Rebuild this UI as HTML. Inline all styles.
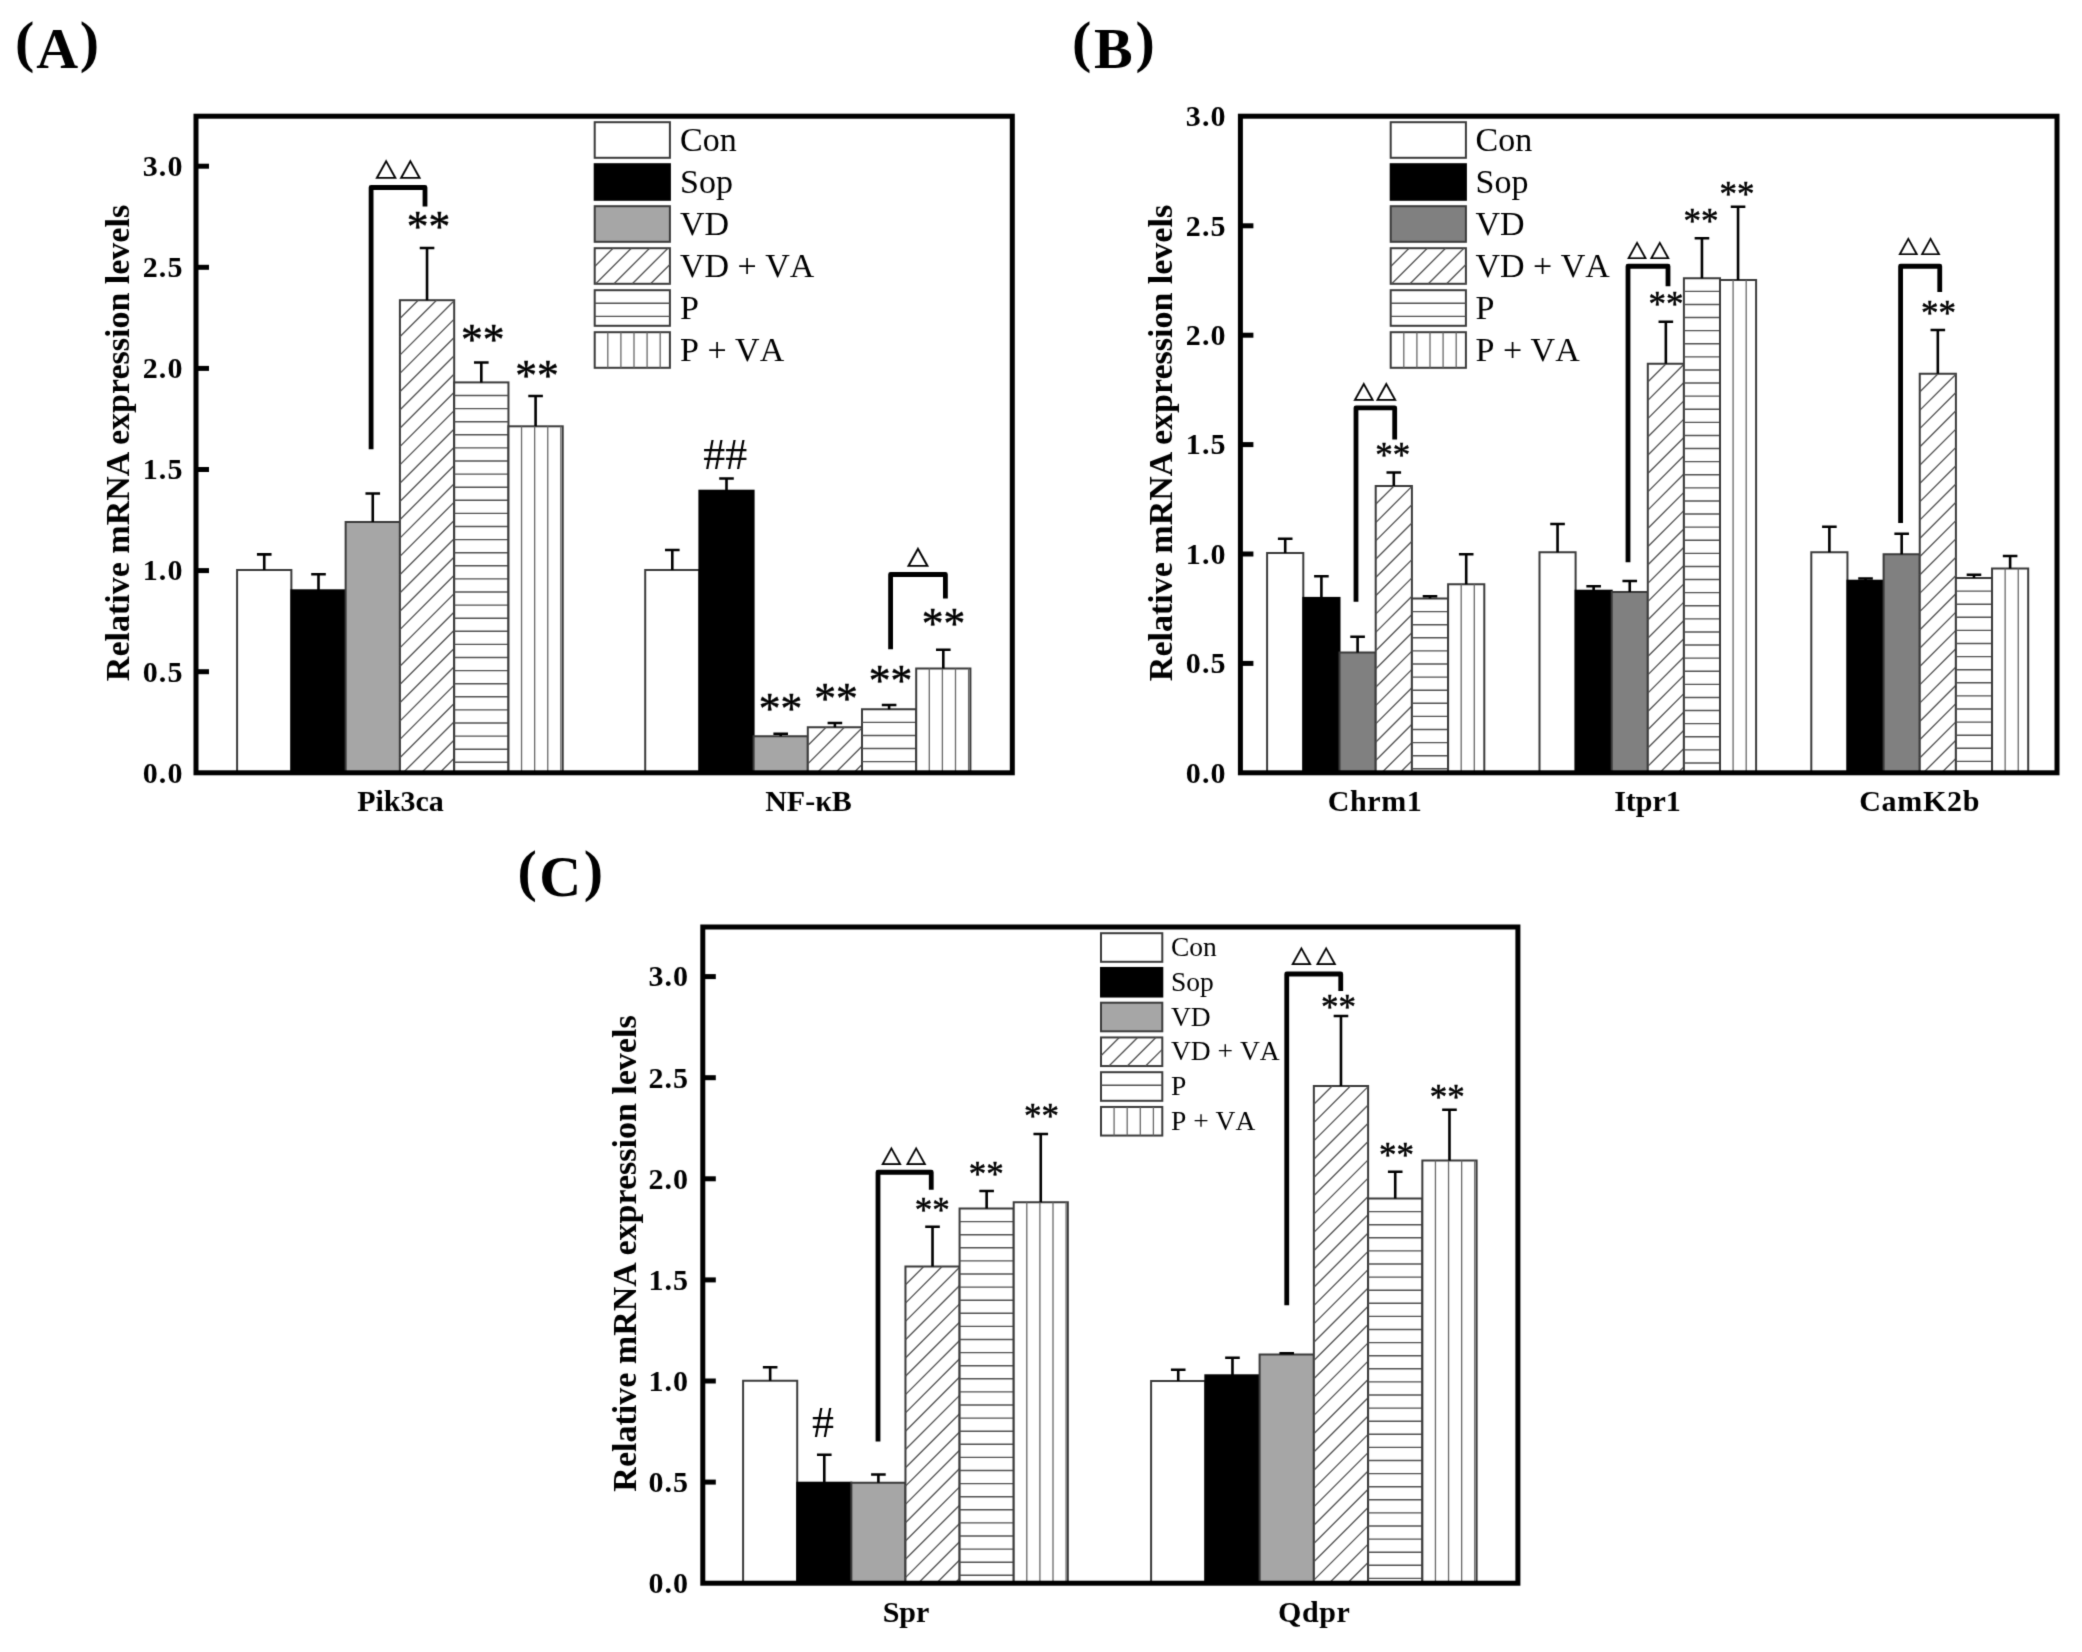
<!DOCTYPE html>
<html lang="en">
<head>
<meta charset="utf-8">
<title>Relative mRNA expression levels</title>
<style>
html,body{margin:0;padding:0;background:#fff;}
body{width:2082px;height:1652px;overflow:hidden;}
svg{display:block;}
#fig{width:2082px;height:1652px;}
</style>
</head>
<body>
<div id="fig">
<svg width="2082" height="1652" viewBox="0 0 2082 1652" fill="#000">
<defs><filter id="soft" filterUnits="userSpaceOnUse" x="0" y="0" width="2082" height="1652" color-interpolation-filters="sRGB"><feConvolveMatrix order="3" kernelMatrix="0.0169 0.0962 0.0169 0.0962 0.5476 0.0962 0.0169 0.0962 0.0169" edgeMode="duplicate" preserveAlpha="false"/></filter></defs>
<g filter="url(#soft)">
<rect x="0" y="0" width="2082" height="1652" fill="#fff"/>
<rect x="237.1" y="570" width="54.27" height="202.8" fill="#fff" stroke="#3a3a3a" stroke-width="2"/>
<rect x="291.37" y="590.3" width="54.27" height="182.5" fill="#000" stroke="#000" stroke-width="2"/>
<rect x="345.64" y="522" width="54.27" height="250.8" fill="#a6a6a6" stroke="#3a3a3a" stroke-width="2"/>
<rect x="399.91" y="300.2" width="54.27" height="472.6" fill="#fff" stroke="#3a3a3a" stroke-width="2"/>
<path d="M399.91,318.5L418.21,300.2M399.91,336.8L436.51,300.2M399.91,355.1L454.18,300.83M399.91,373.4L454.18,319.13M399.91,391.7L454.18,337.43M399.91,410L454.18,355.73M399.91,428.3L454.18,374.03M399.91,446.6L454.18,392.33M399.91,464.9L454.18,410.63M399.91,483.2L454.18,428.93M399.91,501.5L454.18,447.23M399.91,519.8L454.18,465.53M399.91,538.1L454.18,483.83M399.91,556.4L454.18,502.13M399.91,574.7L454.18,520.43M399.91,593L454.18,538.73M399.91,611.3L454.18,557.03M399.91,629.6L454.18,575.33M399.91,647.9L454.18,593.63M399.91,666.2L454.18,611.93M399.91,684.5L454.18,630.23M399.91,702.8L454.18,648.53M399.91,721.1L454.18,666.83M399.91,739.4L454.18,685.13M399.91,757.7L454.18,703.43M403.11,772.8L454.18,721.73M421.41,772.8L454.18,740.03M439.71,772.8L454.18,758.33" stroke="#505050" stroke-width="1.3" fill="none"/>
<rect x="454.18" y="382.4" width="54.27" height="390.4" fill="#fff" stroke="#3a3a3a" stroke-width="2"/>
<path d="M454.18,395.5H508.45M454.18,408.6H508.45M454.18,421.7H508.45M454.18,434.8H508.45M454.18,447.9H508.45M454.18,461H508.45M454.18,474.1H508.45M454.18,487.2H508.45M454.18,500.3H508.45M454.18,513.4H508.45M454.18,526.5H508.45M454.18,539.6H508.45M454.18,552.7H508.45M454.18,565.8H508.45M454.18,578.9H508.45M454.18,592H508.45M454.18,605.1H508.45M454.18,618.2H508.45M454.18,631.3H508.45M454.18,644.4H508.45M454.18,657.5H508.45M454.18,670.6H508.45M454.18,683.7H508.45M454.18,696.8H508.45M454.18,709.9H508.45M454.18,723H508.45M454.18,736.1H508.45M454.18,749.2H508.45M454.18,762.3H508.45" stroke="#505050" stroke-width="1.4" fill="none"/>
<rect x="508.45" y="426.3" width="54.27" height="346.5" fill="#fff" stroke="#3a3a3a" stroke-width="2"/>
<path d="M521.55,426.3V772.8M534.65,426.3V772.8M547.75,426.3V772.8M560.85,426.3V772.8" stroke="#686868" stroke-width="1.3" fill="none"/>
<path d="M264.24,570 V554.4 M256.94,554.4 H271.54" stroke="#000" stroke-width="2.6" fill="none"/>
<path d="M318.5,590.3 V574.3 M311.2,574.3 H325.81" stroke="#000" stroke-width="2.6" fill="none"/>
<path d="M372.77,522 V493.5 M365.47,493.5 H380.07" stroke="#000" stroke-width="2.6" fill="none"/>
<path d="M427.04,300.2 V248 M419.74,248 H434.34" stroke="#000" stroke-width="2.6" fill="none"/>
<path d="M481.31,382.4 V362.5 M474.01,362.5 H488.62" stroke="#000" stroke-width="2.6" fill="none"/>
<path d="M535.59,426.3 V396 M528.29,396 H542.88" stroke="#000" stroke-width="2.6" fill="none"/>
<rect x="645.2" y="570" width="54.2" height="202.8" fill="#fff" stroke="#3a3a3a" stroke-width="2"/>
<rect x="699.4" y="490.7" width="54.2" height="282.1" fill="#000" stroke="#000" stroke-width="2"/>
<rect x="753.6" y="736.25" width="54.2" height="36.55" fill="#a6a6a6" stroke="#3a3a3a" stroke-width="2"/>
<rect x="807.8" y="727.25" width="54.2" height="45.55" fill="#fff" stroke="#3a3a3a" stroke-width="2"/>
<path d="M807.8,745.55L826.1,727.25M807.8,763.85L844.4,727.25M817.15,772.8L862,727.95M835.45,772.8L862,746.25M853.75,772.8L862,764.55" stroke="#505050" stroke-width="1.3" fill="none"/>
<rect x="862" y="709.25" width="54.2" height="63.55" fill="#fff" stroke="#3a3a3a" stroke-width="2"/>
<path d="M862,722.35H916.2M862,735.45H916.2M862,748.55H916.2M862,761.65H916.2" stroke="#505050" stroke-width="1.4" fill="none"/>
<rect x="916.2" y="668.5" width="54.2" height="104.3" fill="#fff" stroke="#3a3a3a" stroke-width="2"/>
<path d="M929.3,668.5V772.8M942.4,668.5V772.8M955.5,668.5V772.8M968.6,668.5V772.8" stroke="#686868" stroke-width="1.3" fill="none"/>
<path d="M672.3,570 V550 M665,550 H679.6" stroke="#000" stroke-width="2.6" fill="none"/>
<path d="M726.5,490.7 V478.5 M719.2,478.5 H733.8" stroke="#000" stroke-width="2.6" fill="none"/>
<path d="M780.7,736.25 V733.75 M773.4,733.75 H788" stroke="#000" stroke-width="2.6" fill="none"/>
<path d="M834.9,727.25 V723 M827.6,723 H842.2" stroke="#000" stroke-width="2.6" fill="none"/>
<path d="M889.1,709.25 V705 M881.8,705 H896.4" stroke="#000" stroke-width="2.6" fill="none"/>
<path d="M943.3,668.5 V649.75 M936,649.75 H950.6" stroke="#000" stroke-width="2.6" fill="none"/>
<rect x="594.7" y="122.2" width="75.2" height="35.6" fill="#fff" stroke="#3a3a3a" stroke-width="2"/>
<text x="680" y="151.3" font-family="'Liberation Serif', serif" font-size="34" style="font-kerning:none">Con</text>
<rect x="594.7" y="164.2" width="75.2" height="35.6" fill="#000" stroke="#000" stroke-width="2"/>
<text x="680" y="193.3" font-family="'Liberation Serif', serif" font-size="34" style="font-kerning:none">Sop</text>
<rect x="594.7" y="206.2" width="75.2" height="35.6" fill="#a6a6a6" stroke="#3a3a3a" stroke-width="2"/>
<text x="680" y="235.3" font-family="'Liberation Serif', serif" font-size="34" style="font-kerning:none">VD</text>
<rect x="594.7" y="248.2" width="75.2" height="35.6" fill="#fff" stroke="#3a3a3a" stroke-width="2"/>
<path d="M594.7,266.5L613,248.2M595.7,283.8L631.3,248.2M614,283.8L649.6,248.2M632.3,283.8L667.9,248.2M650.6,283.8L669.9,264.5M668.9,283.8L669.9,282.8" stroke="#505050" stroke-width="1.3" fill="none"/>
<text x="680" y="277.3" font-family="'Liberation Serif', serif" font-size="34" style="font-kerning:none">VD + VA</text>
<rect x="594.7" y="290.2" width="75.2" height="35.6" fill="#fff" stroke="#3a3a3a" stroke-width="2"/>
<path d="M594.7,303.3H669.9M594.7,316.4H669.9" stroke="#505050" stroke-width="1.4" fill="none"/>
<text x="680" y="319.3" font-family="'Liberation Serif', serif" font-size="34" style="font-kerning:none">P</text>
<rect x="594.7" y="332.2" width="75.2" height="35.6" fill="#fff" stroke="#3a3a3a" stroke-width="2"/>
<path d="M607.8,332.2V367.8M620.9,332.2V367.8M634,332.2V367.8M647.1,332.2V367.8M660.2,332.2V367.8" stroke="#686868" stroke-width="1.3" fill="none"/>
<text x="680" y="361.3" font-family="'Liberation Serif', serif" font-size="34" style="font-kerning:none">P + VA</text>
<rect x="196" y="116.2" width="816.3" height="656.6" fill="none" stroke="#000" stroke-width="5"/>
<text x="142.7" y="782.6" letter-spacing="1.1" font-family="'Liberation Serif', serif" font-weight="bold" font-size="30">0.0</text>
<path d="M196,671.7 H209" stroke="#000" stroke-width="5"/>
<text x="142.7" y="681.5" letter-spacing="1.1" font-family="'Liberation Serif', serif" font-weight="bold" font-size="30">0.5</text>
<path d="M196,570.6 H209" stroke="#000" stroke-width="5"/>
<text x="142.7" y="580.4" letter-spacing="1.1" font-family="'Liberation Serif', serif" font-weight="bold" font-size="30">1.0</text>
<path d="M196,469.5 H209" stroke="#000" stroke-width="5"/>
<text x="142.7" y="479.3" letter-spacing="1.1" font-family="'Liberation Serif', serif" font-weight="bold" font-size="30">1.5</text>
<path d="M196,368.4 H209" stroke="#000" stroke-width="5"/>
<text x="142.7" y="378.2" letter-spacing="1.1" font-family="'Liberation Serif', serif" font-weight="bold" font-size="30">2.0</text>
<path d="M196,267.3 H209" stroke="#000" stroke-width="5"/>
<text x="142.7" y="277.1" letter-spacing="1.1" font-family="'Liberation Serif', serif" font-weight="bold" font-size="30">2.5</text>
<path d="M196,166.2 H209" stroke="#000" stroke-width="5"/>
<text x="142.7" y="176" letter-spacing="1.1" font-family="'Liberation Serif', serif" font-weight="bold" font-size="30">3.0</text>
<text x="400.5" y="811" text-anchor="middle" font-family="'Liberation Serif', serif" font-weight="bold" font-size="30">Pik3ca</text>
<text x="808.5" y="811" text-anchor="middle" font-family="'Liberation Serif', serif" font-weight="bold" font-size="30">NF-κB</text>
<text transform="translate(129.3,443) rotate(-90)" text-anchor="middle" font-family="'Liberation Serif', serif" font-weight="bold" font-size="34">Relative mRNA expression levels</text>
<text x="15" y="67.5" letter-spacing="1.8" font-family="'Liberation Serif', serif" font-weight="bold" font-size="58"><tspan dy="-6.5">(</tspan><tspan dy="6.5">A</tspan><tspan dy="-6.5">)</tspan></text>
<path d="M371.1,449.25 V187.5 H425 V206.6" stroke="#000" stroke-width="4.8" fill="none" stroke-linejoin="round" stroke-linecap="butt"/>
<text transform="translate(375.3,179.45) scale(1.07,1)" x="-2.5 20.21" y="0" font-family="'IPAGothic', 'Noto Sans CJK JP', sans-serif" font-size="25" stroke="#000" stroke-width="0.15">△△</text>
<text x="428.5" y="241.14" text-anchor="middle" font-family="'Liberation Serif', serif" font-size="43.5" stroke="#000" stroke-width="0.5">**</text>
<text x="482.65" y="353.55" text-anchor="middle" font-family="'Liberation Serif', serif" font-size="43.5" stroke="#000" stroke-width="0.5">**</text>
<text x="537" y="389.94" text-anchor="middle" font-family="'Liberation Serif', serif" font-size="43.5" stroke="#000" stroke-width="0.5">**</text>
<text x="725.3" y="468.9" text-anchor="middle" font-family="'Liberation Serif', serif" font-size="44">##</text>
<text x="780.62" y="722.82" text-anchor="middle" font-family="'Liberation Serif', serif" font-size="43.5" stroke="#000" stroke-width="0.5">**</text>
<text x="836.12" y="712.82" text-anchor="middle" font-family="'Liberation Serif', serif" font-size="43.5" stroke="#000" stroke-width="0.5">**</text>
<text x="890.62" y="694.57" text-anchor="middle" font-family="'Liberation Serif', serif" font-size="43.5" stroke="#000" stroke-width="0.5">**</text>
<text x="943.55" y="638.15" text-anchor="middle" font-family="'Liberation Serif', serif" font-size="43.5" stroke="#000" stroke-width="0.5">**</text>
<path d="M890.6,649.25 V574.5 H945.4 V598.6" stroke="#000" stroke-width="4.8" fill="none" stroke-linejoin="round" stroke-linecap="butt"/>
<text transform="translate(906.9,567.16) scale(1.07,1)" x="-2.41" y="0" font-family="'IPAGothic', 'Noto Sans CJK JP', sans-serif" font-size="25.66" stroke="#000" stroke-width="0.15">△</text>
<rect x="1267.1" y="553" width="36.2" height="219.8" fill="#fff" stroke="#3a3a3a" stroke-width="2"/>
<rect x="1303.3" y="597.9" width="36.2" height="174.9" fill="#000" stroke="#000" stroke-width="2"/>
<rect x="1339.5" y="652.5" width="36.2" height="120.3" fill="#808080" stroke="#3a3a3a" stroke-width="2"/>
<rect x="1375.7" y="486" width="36.2" height="286.8" fill="#fff" stroke="#3a3a3a" stroke-width="2"/>
<path d="M1375.7,504.3L1394,486M1375.7,522.6L1411.9,486.4M1375.7,540.9L1411.9,504.7M1375.7,559.2L1411.9,523M1375.7,577.5L1411.9,541.3M1375.7,595.8L1411.9,559.6M1375.7,614.1L1411.9,577.9M1375.7,632.4L1411.9,596.2M1375.7,650.7L1411.9,614.5M1375.7,669L1411.9,632.8M1375.7,687.3L1411.9,651.1M1375.7,705.6L1411.9,669.4M1375.7,723.9L1411.9,687.7M1375.7,742.2L1411.9,706M1375.7,760.5L1411.9,724.3M1381.7,772.8L1411.9,742.6M1400,772.8L1411.9,760.9" stroke="#505050" stroke-width="1.3" fill="none"/>
<rect x="1411.9" y="598.5" width="36.2" height="174.3" fill="#fff" stroke="#3a3a3a" stroke-width="2"/>
<path d="M1411.9,611.6H1448.1M1411.9,624.7H1448.1M1411.9,637.8H1448.1M1411.9,650.9H1448.1M1411.9,664H1448.1M1411.9,677.1H1448.1M1411.9,690.2H1448.1M1411.9,703.3H1448.1M1411.9,716.4H1448.1M1411.9,729.5H1448.1M1411.9,742.6H1448.1M1411.9,755.7H1448.1M1411.9,768.8H1448.1" stroke="#505050" stroke-width="1.4" fill="none"/>
<rect x="1448.1" y="584.25" width="36.2" height="188.55" fill="#fff" stroke="#3a3a3a" stroke-width="2"/>
<path d="M1461.2,584.25V772.8M1474.3,584.25V772.8" stroke="#686868" stroke-width="1.3" fill="none"/>
<path d="M1285.2,553 V538.75 M1277.9,538.75 H1292.5" stroke="#000" stroke-width="2.6" fill="none"/>
<path d="M1321.4,597.9 V576.25 M1314.1,576.25 H1328.7" stroke="#000" stroke-width="2.6" fill="none"/>
<path d="M1357.6,652.5 V636.75 M1350.3,636.75 H1364.9" stroke="#000" stroke-width="2.6" fill="none"/>
<path d="M1393.8,486 V472.5 M1386.5,472.5 H1401.1" stroke="#000" stroke-width="2.6" fill="none"/>
<path d="M1430,598.5 V596.25 M1422.7,596.25 H1437.3" stroke="#000" stroke-width="2.6" fill="none"/>
<path d="M1466.2,584.25 V554.25 M1458.9,554.25 H1473.5" stroke="#000" stroke-width="2.6" fill="none"/>
<rect x="1539.5" y="552.25" width="36.1" height="220.55" fill="#fff" stroke="#3a3a3a" stroke-width="2"/>
<rect x="1575.6" y="590.7" width="36.1" height="182.1" fill="#000" stroke="#000" stroke-width="2"/>
<rect x="1611.7" y="592" width="36.1" height="180.8" fill="#808080" stroke="#3a3a3a" stroke-width="2"/>
<rect x="1647.8" y="363.75" width="36.1" height="409.05" fill="#fff" stroke="#3a3a3a" stroke-width="2"/>
<path d="M1647.8,382.05L1666.1,363.75M1647.8,400.35L1683.9,364.25M1647.8,418.65L1683.9,382.55M1647.8,436.95L1683.9,400.85M1647.8,455.25L1683.9,419.15M1647.8,473.55L1683.9,437.45M1647.8,491.85L1683.9,455.75M1647.8,510.15L1683.9,474.05M1647.8,528.45L1683.9,492.35M1647.8,546.75L1683.9,510.65M1647.8,565.05L1683.9,528.95M1647.8,583.35L1683.9,547.25M1647.8,601.65L1683.9,565.55M1647.8,619.95L1683.9,583.85M1647.8,638.25L1683.9,602.15M1647.8,656.55L1683.9,620.45M1647.8,674.85L1683.9,638.75M1647.8,693.15L1683.9,657.05M1647.8,711.45L1683.9,675.35M1647.8,729.75L1683.9,693.65M1647.8,748.05L1683.9,711.95M1647.8,766.35L1683.9,730.25M1659.65,772.8L1683.9,748.55M1677.95,772.8L1683.9,766.85" stroke="#505050" stroke-width="1.3" fill="none"/>
<rect x="1683.9" y="278.25" width="36.1" height="494.55" fill="#fff" stroke="#3a3a3a" stroke-width="2"/>
<path d="M1683.9,291.35H1720M1683.9,304.45H1720M1683.9,317.55H1720M1683.9,330.65H1720M1683.9,343.75H1720M1683.9,356.85H1720M1683.9,369.95H1720M1683.9,383.05H1720M1683.9,396.15H1720M1683.9,409.25H1720M1683.9,422.35H1720M1683.9,435.45H1720M1683.9,448.55H1720M1683.9,461.65H1720M1683.9,474.75H1720M1683.9,487.85H1720M1683.9,500.95H1720M1683.9,514.05H1720M1683.9,527.15H1720M1683.9,540.25H1720M1683.9,553.35H1720M1683.9,566.45H1720M1683.9,579.55H1720M1683.9,592.65H1720M1683.9,605.75H1720M1683.9,618.85H1720M1683.9,631.95H1720M1683.9,645.05H1720M1683.9,658.15H1720M1683.9,671.25H1720M1683.9,684.35H1720M1683.9,697.45H1720M1683.9,710.55H1720M1683.9,723.65H1720M1683.9,736.75H1720M1683.9,749.85H1720M1683.9,762.95H1720" stroke="#505050" stroke-width="1.4" fill="none"/>
<rect x="1720" y="280" width="36.1" height="492.8" fill="#fff" stroke="#3a3a3a" stroke-width="2"/>
<path d="M1733.1,280V772.8M1746.2,280V772.8" stroke="#686868" stroke-width="1.3" fill="none"/>
<path d="M1557.55,552.25 V524 M1550.25,524 H1564.85" stroke="#000" stroke-width="2.6" fill="none"/>
<path d="M1593.65,590.7 V586.25 M1586.35,586.25 H1600.95" stroke="#000" stroke-width="2.6" fill="none"/>
<path d="M1629.75,592 V581 M1622.45,581 H1637.05" stroke="#000" stroke-width="2.6" fill="none"/>
<path d="M1665.85,363.75 V321.75 M1658.55,321.75 H1673.15" stroke="#000" stroke-width="2.6" fill="none"/>
<path d="M1701.95,278.25 V238.25 M1694.65,238.25 H1709.25" stroke="#000" stroke-width="2.6" fill="none"/>
<path d="M1738.05,280 V206.75 M1730.75,206.75 H1745.35" stroke="#000" stroke-width="2.6" fill="none"/>
<rect x="1811.3" y="552.25" width="36.15" height="220.55" fill="#fff" stroke="#3a3a3a" stroke-width="2"/>
<rect x="1847.45" y="580.7" width="36.15" height="192.1" fill="#000" stroke="#000" stroke-width="2"/>
<rect x="1883.6" y="554.25" width="36.15" height="218.55" fill="#808080" stroke="#3a3a3a" stroke-width="2"/>
<rect x="1919.75" y="373.75" width="36.15" height="399.05" fill="#fff" stroke="#3a3a3a" stroke-width="2"/>
<path d="M1919.75,392.05L1938.05,373.75M1919.75,410.35L1955.9,374.2M1919.75,428.65L1955.9,392.5M1919.75,446.95L1955.9,410.8M1919.75,465.25L1955.9,429.1M1919.75,483.55L1955.9,447.4M1919.75,501.85L1955.9,465.7M1919.75,520.15L1955.9,484M1919.75,538.45L1955.9,502.3M1919.75,556.75L1955.9,520.6M1919.75,575.05L1955.9,538.9M1919.75,593.35L1955.9,557.2M1919.75,611.65L1955.9,575.5M1919.75,629.95L1955.9,593.8M1919.75,648.25L1955.9,612.1M1919.75,666.55L1955.9,630.4M1919.75,684.85L1955.9,648.7M1919.75,703.15L1955.9,667M1919.75,721.45L1955.9,685.3M1919.75,739.75L1955.9,703.6M1919.75,758.05L1955.9,721.9M1923.3,772.8L1955.9,740.2M1941.6,772.8L1955.9,758.5" stroke="#505050" stroke-width="1.3" fill="none"/>
<rect x="1955.9" y="578" width="36.15" height="194.8" fill="#fff" stroke="#3a3a3a" stroke-width="2"/>
<path d="M1955.9,591.1H1992.05M1955.9,604.2H1992.05M1955.9,617.3H1992.05M1955.9,630.4H1992.05M1955.9,643.5H1992.05M1955.9,656.6H1992.05M1955.9,669.7H1992.05M1955.9,682.8H1992.05M1955.9,695.9H1992.05M1955.9,709H1992.05M1955.9,722.1H1992.05M1955.9,735.2H1992.05M1955.9,748.3H1992.05M1955.9,761.4H1992.05" stroke="#505050" stroke-width="1.4" fill="none"/>
<rect x="1992.05" y="568.5" width="36.15" height="204.3" fill="#fff" stroke="#3a3a3a" stroke-width="2"/>
<path d="M2005.15,568.5V772.8M2018.25,568.5V772.8" stroke="#686868" stroke-width="1.3" fill="none"/>
<path d="M1829.38,552.25 V526.75 M1822.08,526.75 H1836.67" stroke="#000" stroke-width="2.6" fill="none"/>
<path d="M1865.53,580.7 V578.5 M1858.23,578.5 H1872.83" stroke="#000" stroke-width="2.6" fill="none"/>
<path d="M1901.67,554.25 V533.75 M1894.38,533.75 H1908.97" stroke="#000" stroke-width="2.6" fill="none"/>
<path d="M1937.83,373.75 V330 M1930.53,330 H1945.12" stroke="#000" stroke-width="2.6" fill="none"/>
<path d="M1973.97,578 V574.75 M1966.67,574.75 H1981.27" stroke="#000" stroke-width="2.6" fill="none"/>
<path d="M2010.12,568.5 V556 M2002.83,556 H2017.42" stroke="#000" stroke-width="2.6" fill="none"/>
<rect x="1390.7" y="122.2" width="75.2" height="35.6" fill="#fff" stroke="#3a3a3a" stroke-width="2"/>
<text x="1475.5" y="151.3" font-family="'Liberation Serif', serif" font-size="34" style="font-kerning:none">Con</text>
<rect x="1390.7" y="164.2" width="75.2" height="35.6" fill="#000" stroke="#000" stroke-width="2"/>
<text x="1475.5" y="193.3" font-family="'Liberation Serif', serif" font-size="34" style="font-kerning:none">Sop</text>
<rect x="1390.7" y="206.2" width="75.2" height="35.6" fill="#808080" stroke="#3a3a3a" stroke-width="2"/>
<text x="1475.5" y="235.3" font-family="'Liberation Serif', serif" font-size="34" style="font-kerning:none">VD</text>
<rect x="1390.7" y="248.2" width="75.2" height="35.6" fill="#fff" stroke="#3a3a3a" stroke-width="2"/>
<path d="M1390.7,266.5L1409,248.2M1391.7,283.8L1427.3,248.2M1410,283.8L1445.6,248.2M1428.3,283.8L1463.9,248.2M1446.6,283.8L1465.9,264.5M1464.9,283.8L1465.9,282.8" stroke="#505050" stroke-width="1.3" fill="none"/>
<text x="1475.5" y="277.3" font-family="'Liberation Serif', serif" font-size="34" style="font-kerning:none">VD + VA</text>
<rect x="1390.7" y="290.2" width="75.2" height="35.6" fill="#fff" stroke="#3a3a3a" stroke-width="2"/>
<path d="M1390.7,303.3H1465.9M1390.7,316.4H1465.9" stroke="#505050" stroke-width="1.4" fill="none"/>
<text x="1475.5" y="319.3" font-family="'Liberation Serif', serif" font-size="34" style="font-kerning:none">P</text>
<rect x="1390.7" y="332.2" width="75.2" height="35.6" fill="#fff" stroke="#3a3a3a" stroke-width="2"/>
<path d="M1403.8,332.2V367.8M1416.9,332.2V367.8M1430,332.2V367.8M1443.1,332.2V367.8M1456.2,332.2V367.8" stroke="#686868" stroke-width="1.3" fill="none"/>
<text x="1475.5" y="361.3" font-family="'Liberation Serif', serif" font-size="34" style="font-kerning:none">P + VA</text>
<rect x="1240.4" y="116.2" width="816.6" height="656.6" fill="none" stroke="#000" stroke-width="5"/>
<text x="1185.8" y="782.6" letter-spacing="1.1" font-family="'Liberation Serif', serif" font-weight="bold" font-size="30">0.0</text>
<path d="M1240.4,663.4 H1253.4" stroke="#000" stroke-width="5"/>
<text x="1185.8" y="673.2" letter-spacing="1.1" font-family="'Liberation Serif', serif" font-weight="bold" font-size="30">0.5</text>
<path d="M1240.4,554 H1253.4" stroke="#000" stroke-width="5"/>
<text x="1185.8" y="563.8" letter-spacing="1.1" font-family="'Liberation Serif', serif" font-weight="bold" font-size="30">1.0</text>
<path d="M1240.4,444.6 H1253.4" stroke="#000" stroke-width="5"/>
<text x="1185.8" y="454.4" letter-spacing="1.1" font-family="'Liberation Serif', serif" font-weight="bold" font-size="30">1.5</text>
<path d="M1240.4,335.2 H1253.4" stroke="#000" stroke-width="5"/>
<text x="1185.8" y="345" letter-spacing="1.1" font-family="'Liberation Serif', serif" font-weight="bold" font-size="30">2.0</text>
<path d="M1240.4,225.8 H1253.4" stroke="#000" stroke-width="5"/>
<text x="1185.8" y="235.6" letter-spacing="1.1" font-family="'Liberation Serif', serif" font-weight="bold" font-size="30">2.5</text>
<text x="1185.8" y="126.2" letter-spacing="1.1" font-family="'Liberation Serif', serif" font-weight="bold" font-size="30">3.0</text>
<text x="1375" y="811" text-anchor="middle" font-family="'Liberation Serif', serif" font-weight="bold" font-size="30" letter-spacing='0.6'>Chrm1</text>
<text x="1647.5" y="811" text-anchor="middle" font-family="'Liberation Serif', serif" font-weight="bold" font-size="30">Itpr1</text>
<text x="1919.7" y="811" text-anchor="middle" font-family="'Liberation Serif', serif" font-weight="bold" font-size="30" letter-spacing='0.7'>CamK2b</text>
<text transform="translate(1172,443) rotate(-90)" text-anchor="middle" font-family="'Liberation Serif', serif" font-weight="bold" font-size="34">Relative mRNA expression levels</text>
<text x="1072" y="67.5" letter-spacing="2.7" font-family="'Liberation Serif', serif" font-weight="bold" font-size="58"><tspan dy="-6.5">(</tspan><tspan dy="6.5">B</tspan><tspan dy="-6.5">)</tspan></text>
<path d="M1356,601.75 V407.8 H1394.7 V439.5" stroke="#000" stroke-width="4.8" fill="none" stroke-linejoin="round" stroke-linecap="butt"/>
<text transform="translate(1353.6,401.44) scale(1.07,1)" x="-2.39 18.63" y="0" font-family="'IPAGothic', 'Noto Sans CJK JP', sans-serif" font-size="23.95" stroke="#000" stroke-width="0.15">△△</text>
<text x="1392.8" y="466.65" text-anchor="middle" font-family="'Liberation Serif', serif" font-size="35" stroke="#000" stroke-width="0.5">**</text>
<path d="M1628,562.25 V266.25 H1668 V286.25" stroke="#000" stroke-width="4.8" fill="none" stroke-linejoin="round" stroke-linecap="butt"/>
<text transform="translate(1627.25,258.98) scale(1.07,1)" x="-2.3 19" y="0" font-family="'IPAGothic', 'Noto Sans CJK JP', sans-serif" font-size="23.03" stroke="#000" stroke-width="0.15">△△</text>
<text x="1666" y="315.82" text-anchor="middle" font-family="'Liberation Serif', serif" font-size="35" stroke="#000" stroke-width="0.5">**</text>
<text x="1701" y="233.32" text-anchor="middle" font-family="'Liberation Serif', serif" font-size="35" stroke="#000" stroke-width="0.5">**</text>
<text x="1737" y="205.82" text-anchor="middle" font-family="'Liberation Serif', serif" font-size="35" stroke="#000" stroke-width="0.5">**</text>
<path d="M1900.6,523 V266.25 H1939.75 V292" stroke="#000" stroke-width="4.8" fill="none" stroke-linejoin="round" stroke-linecap="butt"/>
<text transform="translate(1898.5,255.23) scale(1.07,1)" x="-2.3 18.53" y="0" font-family="'IPAGothic', 'Noto Sans CJK JP', sans-serif" font-size="23.03" stroke="#000" stroke-width="0.15">△△</text>
<text x="1938.5" y="324.57" text-anchor="middle" font-family="'Liberation Serif', serif" font-size="35" stroke="#000" stroke-width="0.5">**</text>
<rect x="743.1" y="1380.75" width="54.12" height="202.45" fill="#fff" stroke="#3a3a3a" stroke-width="2"/>
<rect x="797.22" y="1482.7" width="54.12" height="100.5" fill="#000" stroke="#000" stroke-width="2"/>
<rect x="851.34" y="1482.75" width="54.12" height="100.45" fill="#a6a6a6" stroke="#3a3a3a" stroke-width="2"/>
<rect x="905.46" y="1266.5" width="54.12" height="316.7" fill="#fff" stroke="#3a3a3a" stroke-width="2"/>
<path d="M905.46,1284.8L923.76,1266.5M905.46,1303.1L942.06,1266.5M905.46,1321.4L959.58,1267.28M905.46,1339.7L959.58,1285.58M905.46,1358L959.58,1303.88M905.46,1376.3L959.58,1322.18M905.46,1394.6L959.58,1340.48M905.46,1412.9L959.58,1358.78M905.46,1431.2L959.58,1377.08M905.46,1449.5L959.58,1395.38M905.46,1467.8L959.58,1413.68M905.46,1486.1L959.58,1431.98M905.46,1504.4L959.58,1450.28M905.46,1522.7L959.58,1468.58M905.46,1541L959.58,1486.88M905.46,1559.3L959.58,1505.18M905.46,1577.6L959.58,1523.48M918.16,1583.2L959.58,1541.78M936.46,1583.2L959.58,1560.08M954.76,1583.2L959.58,1578.38" stroke="#505050" stroke-width="1.3" fill="none"/>
<rect x="959.58" y="1208.5" width="54.12" height="374.7" fill="#fff" stroke="#3a3a3a" stroke-width="2"/>
<path d="M959.58,1221.6H1013.7M959.58,1234.7H1013.7M959.58,1247.8H1013.7M959.58,1260.9H1013.7M959.58,1274H1013.7M959.58,1287.1H1013.7M959.58,1300.2H1013.7M959.58,1313.3H1013.7M959.58,1326.4H1013.7M959.58,1339.5H1013.7M959.58,1352.6H1013.7M959.58,1365.7H1013.7M959.58,1378.8H1013.7M959.58,1391.9H1013.7M959.58,1405H1013.7M959.58,1418.1H1013.7M959.58,1431.2H1013.7M959.58,1444.3H1013.7M959.58,1457.4H1013.7M959.58,1470.5H1013.7M959.58,1483.6H1013.7M959.58,1496.7H1013.7M959.58,1509.8H1013.7M959.58,1522.9H1013.7M959.58,1536H1013.7M959.58,1549.1H1013.7M959.58,1562.2H1013.7M959.58,1575.3H1013.7" stroke="#505050" stroke-width="1.4" fill="none"/>
<rect x="1013.7" y="1202.25" width="54.12" height="380.95" fill="#fff" stroke="#3a3a3a" stroke-width="2"/>
<path d="M1026.8,1202.25V1583.2M1039.9,1202.25V1583.2M1053,1202.25V1583.2M1066.1,1202.25V1583.2" stroke="#686868" stroke-width="1.3" fill="none"/>
<path d="M770.16,1380.75 V1367.25 M762.86,1367.25 H777.46" stroke="#000" stroke-width="2.6" fill="none"/>
<path d="M824.28,1482.7 V1454.75 M816.98,1454.75 H831.58" stroke="#000" stroke-width="2.6" fill="none"/>
<path d="M878.4,1482.75 V1474.5 M871.1,1474.5 H885.7" stroke="#000" stroke-width="2.6" fill="none"/>
<path d="M932.52,1266.5 V1226.75 M925.22,1226.75 H939.82" stroke="#000" stroke-width="2.6" fill="none"/>
<path d="M986.64,1208.5 V1191 M979.34,1191 H993.94" stroke="#000" stroke-width="2.6" fill="none"/>
<path d="M1040.76,1202.25 V1134 M1033.46,1134 H1048.06" stroke="#000" stroke-width="2.6" fill="none"/>
<rect x="1151.1" y="1381" width="54.25" height="202.2" fill="#fff" stroke="#3a3a3a" stroke-width="2"/>
<rect x="1205.35" y="1375.3" width="54.25" height="207.9" fill="#000" stroke="#000" stroke-width="2"/>
<rect x="1259.6" y="1354.5" width="54.25" height="228.7" fill="#a6a6a6" stroke="#3a3a3a" stroke-width="2"/>
<rect x="1313.85" y="1086" width="54.25" height="497.2" fill="#fff" stroke="#3a3a3a" stroke-width="2"/>
<path d="M1313.85,1104.3L1332.15,1086M1313.85,1122.6L1350.45,1086M1313.85,1140.9L1368.1,1086.65M1313.85,1159.2L1368.1,1104.95M1313.85,1177.5L1368.1,1123.25M1313.85,1195.8L1368.1,1141.55M1313.85,1214.1L1368.1,1159.85M1313.85,1232.4L1368.1,1178.15M1313.85,1250.7L1368.1,1196.45M1313.85,1269L1368.1,1214.75M1313.85,1287.3L1368.1,1233.05M1313.85,1305.6L1368.1,1251.35M1313.85,1323.9L1368.1,1269.65M1313.85,1342.2L1368.1,1287.95M1313.85,1360.5L1368.1,1306.25M1313.85,1378.8L1368.1,1324.55M1313.85,1397.1L1368.1,1342.85M1313.85,1415.4L1368.1,1361.15M1313.85,1433.7L1368.1,1379.45M1313.85,1452L1368.1,1397.75M1313.85,1470.3L1368.1,1416.05M1313.85,1488.6L1368.1,1434.35M1313.85,1506.9L1368.1,1452.65M1313.85,1525.2L1368.1,1470.95M1313.85,1543.5L1368.1,1489.25M1313.85,1561.8L1368.1,1507.55M1313.85,1580.1L1368.1,1525.85M1329.05,1583.2L1368.1,1544.15M1347.35,1583.2L1368.1,1562.45M1365.65,1583.2L1368.1,1580.75" stroke="#505050" stroke-width="1.3" fill="none"/>
<rect x="1368.1" y="1198.5" width="54.25" height="384.7" fill="#fff" stroke="#3a3a3a" stroke-width="2"/>
<path d="M1368.1,1211.6H1422.35M1368.1,1224.7H1422.35M1368.1,1237.8H1422.35M1368.1,1250.9H1422.35M1368.1,1264H1422.35M1368.1,1277.1H1422.35M1368.1,1290.2H1422.35M1368.1,1303.3H1422.35M1368.1,1316.4H1422.35M1368.1,1329.5H1422.35M1368.1,1342.6H1422.35M1368.1,1355.7H1422.35M1368.1,1368.8H1422.35M1368.1,1381.9H1422.35M1368.1,1395H1422.35M1368.1,1408.1H1422.35M1368.1,1421.2H1422.35M1368.1,1434.3H1422.35M1368.1,1447.4H1422.35M1368.1,1460.5H1422.35M1368.1,1473.6H1422.35M1368.1,1486.7H1422.35M1368.1,1499.8H1422.35M1368.1,1512.9H1422.35M1368.1,1526H1422.35M1368.1,1539.1H1422.35M1368.1,1552.2H1422.35M1368.1,1565.3H1422.35M1368.1,1578.4H1422.35" stroke="#505050" stroke-width="1.4" fill="none"/>
<rect x="1422.35" y="1160.5" width="54.25" height="422.7" fill="#fff" stroke="#3a3a3a" stroke-width="2"/>
<path d="M1435.45,1160.5V1583.2M1448.55,1160.5V1583.2M1461.65,1160.5V1583.2M1474.75,1160.5V1583.2" stroke="#686868" stroke-width="1.3" fill="none"/>
<path d="M1178.22,1381 V1369.75 M1170.92,1369.75 H1185.52" stroke="#000" stroke-width="2.6" fill="none"/>
<path d="M1232.47,1375.3 V1357.75 M1225.17,1357.75 H1239.77" stroke="#000" stroke-width="2.6" fill="none"/>
<path d="M1286.72,1354.5 V1353.25 M1279.42,1353.25 H1294.02" stroke="#000" stroke-width="2.6" fill="none"/>
<path d="M1340.97,1086 V1016 M1333.67,1016 H1348.27" stroke="#000" stroke-width="2.6" fill="none"/>
<path d="M1395.22,1198.5 V1171.75 M1387.92,1171.75 H1402.52" stroke="#000" stroke-width="2.6" fill="none"/>
<path d="M1449.47,1160.5 V1109.75 M1442.17,1109.75 H1456.77" stroke="#000" stroke-width="2.6" fill="none"/>
<rect x="1101" y="933.2" width="61.3" height="28.6" fill="#fff" stroke="#3a3a3a" stroke-width="2"/>
<text x="1171" y="956" font-family="'Liberation Serif', serif" font-size="27.5" style="font-kerning:none">Con</text>
<rect x="1101" y="967.95" width="61.3" height="28.6" fill="#000" stroke="#000" stroke-width="2"/>
<text x="1171" y="990.75" font-family="'Liberation Serif', serif" font-size="27.5" style="font-kerning:none">Sop</text>
<rect x="1101" y="1002.7" width="61.3" height="28.6" fill="#a6a6a6" stroke="#3a3a3a" stroke-width="2"/>
<text x="1171" y="1025.5" font-family="'Liberation Serif', serif" font-size="27.5" style="font-kerning:none">VD</text>
<rect x="1101" y="1037.45" width="61.3" height="28.6" fill="#fff" stroke="#3a3a3a" stroke-width="2"/>
<path d="M1101,1055.75L1119.3,1037.45M1109,1066.05L1137.6,1037.45M1127.3,1066.05L1155.9,1037.45M1145.6,1066.05L1162.3,1049.35" stroke="#505050" stroke-width="1.3" fill="none"/>
<text x="1171" y="1060.25" font-family="'Liberation Serif', serif" font-size="27.5" style="font-kerning:none">VD + VA</text>
<rect x="1101" y="1072.2" width="61.3" height="28.6" fill="#fff" stroke="#3a3a3a" stroke-width="2"/>
<path d="M1101,1085.3H1162.3" stroke="#505050" stroke-width="1.4" fill="none"/>
<text x="1171" y="1095" font-family="'Liberation Serif', serif" font-size="27.5" style="font-kerning:none">P</text>
<rect x="1101" y="1106.95" width="61.3" height="28.6" fill="#fff" stroke="#3a3a3a" stroke-width="2"/>
<path d="M1114.1,1106.95V1135.55M1127.2,1106.95V1135.55M1140.3,1106.95V1135.55M1153.4,1106.95V1135.55" stroke="#686868" stroke-width="1.3" fill="none"/>
<text x="1171" y="1129.75" font-family="'Liberation Serif', serif" font-size="27.5" style="font-kerning:none">P + VA</text>
<rect x="702.8" y="927" width="815.1" height="656.2" fill="none" stroke="#000" stroke-width="5"/>
<text x="648.4" y="1593" letter-spacing="1.1" font-family="'Liberation Serif', serif" font-weight="bold" font-size="30">0.0</text>
<path d="M702.8,1482.1 H715.8" stroke="#000" stroke-width="5"/>
<text x="648.4" y="1491.9" letter-spacing="1.1" font-family="'Liberation Serif', serif" font-weight="bold" font-size="30">0.5</text>
<path d="M702.8,1381 H715.8" stroke="#000" stroke-width="5"/>
<text x="648.4" y="1390.8" letter-spacing="1.1" font-family="'Liberation Serif', serif" font-weight="bold" font-size="30">1.0</text>
<path d="M702.8,1279.9 H715.8" stroke="#000" stroke-width="5"/>
<text x="648.4" y="1289.7" letter-spacing="1.1" font-family="'Liberation Serif', serif" font-weight="bold" font-size="30">1.5</text>
<path d="M702.8,1178.8 H715.8" stroke="#000" stroke-width="5"/>
<text x="648.4" y="1188.6" letter-spacing="1.1" font-family="'Liberation Serif', serif" font-weight="bold" font-size="30">2.0</text>
<path d="M702.8,1077.7 H715.8" stroke="#000" stroke-width="5"/>
<text x="648.4" y="1087.5" letter-spacing="1.1" font-family="'Liberation Serif', serif" font-weight="bold" font-size="30">2.5</text>
<path d="M702.8,976.6 H715.8" stroke="#000" stroke-width="5"/>
<text x="648.4" y="986.4" letter-spacing="1.1" font-family="'Liberation Serif', serif" font-weight="bold" font-size="30">3.0</text>
<text x="906" y="1621.5" text-anchor="middle" font-family="'Liberation Serif', serif" font-weight="bold" font-size="30">Spr</text>
<text x="1314.3" y="1621.5" text-anchor="middle" font-family="'Liberation Serif', serif" font-weight="bold" font-size="30" letter-spacing='0.6'>Qdpr</text>
<text transform="translate(636.3,1253.5) rotate(-90)" text-anchor="middle" font-family="'Liberation Serif', serif" font-weight="bold" font-size="34">Relative mRNA expression levels</text>
<text x="517.5" y="896" letter-spacing="2.5" font-family="'Liberation Serif', serif" font-weight="bold" font-size="58"><tspan dy="-6.5">(</tspan><tspan dy="6.5">C</tspan><tspan dy="-6.5">)</tspan></text>
<path d="M878,1441.5 V1172.25 H931.25 V1189.75" stroke="#000" stroke-width="4.8" fill="none" stroke-linejoin="round" stroke-linecap="butt"/>
<text transform="translate(881.25,1164.99) scale(1.07,1)" x="-2.37 20.74" y="0" font-family="'IPAGothic', 'Noto Sans CJK JP', sans-serif" font-size="23.68" stroke="#000" stroke-width="0.15">△△</text>
<text x="932.25" y="1221.83" text-anchor="middle" font-family="'Liberation Serif', serif" font-size="35" stroke="#000" stroke-width="0.5">**</text>
<text x="986.25" y="1185.58" text-anchor="middle" font-family="'Liberation Serif', serif" font-size="35" stroke="#000" stroke-width="0.5">**</text>
<text x="1041.5" y="1128.08" text-anchor="middle" font-family="'Liberation Serif', serif" font-size="35" stroke="#000" stroke-width="0.5">**</text>
<text x="823.12" y="1436.5" text-anchor="middle" font-family="'Liberation Serif', serif" font-size="44">#</text>
<path d="M1286.75,1305.25 V974 H1340.75 V991" stroke="#000" stroke-width="4.8" fill="none" stroke-linejoin="round" stroke-linecap="butt"/>
<text transform="translate(1291.25,965.49) scale(1.07,1)" x="-2.37 20.74" y="0" font-family="'IPAGothic', 'Noto Sans CJK JP', sans-serif" font-size="23.68" stroke="#000" stroke-width="0.15">△△</text>
<text x="1338.5" y="1019.33" text-anchor="middle" font-family="'Liberation Serif', serif" font-size="35" stroke="#000" stroke-width="0.5">**</text>
<text x="1396.5" y="1166.83" text-anchor="middle" font-family="'Liberation Serif', serif" font-size="35" stroke="#000" stroke-width="0.5">**</text>
<text x="1447.25" y="1109.33" text-anchor="middle" font-family="'Liberation Serif', serif" font-size="35" stroke="#000" stroke-width="0.5">**</text>
</g>
</svg>
</div>
</body>
</html>
